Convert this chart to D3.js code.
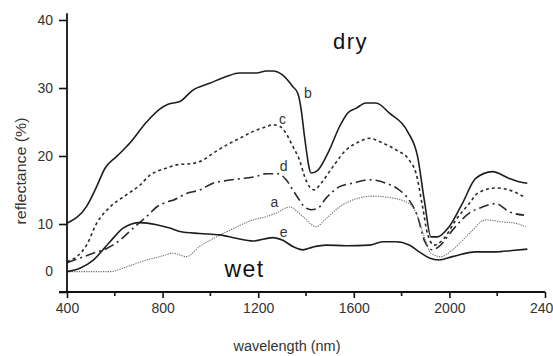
<!DOCTYPE html>
<html>
<head>
<meta charset="utf-8">
<script src="https://cdn.jsdelivr.net/npm/d3@7"></script>
<style>
  html, body { margin: 0; padding: 0; background: #fff; }
  svg { display: block; font-family: "Liberation Sans", Arial, sans-serif; }
</style>
</head>
<body>
<svg id="chart" width="553" height="356"></svg>
<script>
// wavelength (nm) / reflectance (%)
const waveB = [400, 482, 524, 559, 607, 663, 733, 788, 823, 872, 927, 997, 1067, 1122, 1192, 1234, 1261, 1303, 1345, 1366, 1380, 1394, 1422, 1449, 1498, 1540, 1574, 1609, 1651, 1693, 1749, 1825, 1867, 1895, 1923, 1950, 1999, 2054, 2110, 2180, 2250, 2291, 2326];
const reflB = [10.1, 12.6, 15.5, 18.2, 19.9, 21.9, 25.0, 26.9, 27.6, 28.0, 29.7, 30.7, 31.7, 32.2, 32.2, 32.5, 32.5, 31.9, 30.2, 29.2, 26.8, 22.8, 17.5, 17.9, 20.9, 24.3, 26.3, 27.0, 27.8, 27.8, 26.3, 23.6, 19.9, 13.5, 8.1, 8.1, 9.6, 13.0, 16.7, 17.7, 16.7, 16.2, 16.0];

const waveC = [400, 441, 482, 524, 580, 649, 705, 747, 788, 823, 858, 927, 969, 1011, 1067, 1122, 1192, 1234, 1261, 1289, 1317, 1345, 1373, 1394, 1414, 1435, 1463, 1512, 1568, 1623, 1665, 1721, 1777, 1832, 1860, 1888, 1908, 1936, 1978, 2027, 2083, 2117, 2194, 2250, 2312];
const reflC = [4.5, 5.2, 6.9, 10.1, 12.5, 14.3, 15.7, 17.2, 17.9, 18.3, 18.7, 18.9, 19.4, 20.4, 21.6, 22.6, 23.8, 24.3, 24.6, 24.4, 23.3, 21.4, 19.4, 17.0, 15.5, 15.0, 16.0, 18.4, 20.9, 22.1, 22.6, 21.9, 20.9, 19.4, 17.5, 12.5, 8.6, 6.9, 7.9, 10.6, 13.0, 14.5, 15.3, 15.0, 14.0];

const waveD = [400, 454, 510, 566, 621, 677, 733, 775, 823, 844, 900, 955, 1011, 1067, 1136, 1192, 1234, 1282, 1317, 1345, 1373, 1394, 1422, 1449, 1484, 1540, 1595, 1665, 1735, 1790, 1832, 1867, 1895, 1930, 1957, 2013, 2083, 2138, 2194, 2250, 2312];
const reflD = [4.3, 5.0, 5.7, 6.4, 7.6, 9.4, 11.1, 12.5, 13.3, 13.5, 14.5, 15.0, 16.0, 16.4, 16.7, 17.0, 17.4, 17.4, 16.5, 15.0, 13.5, 12.5, 12.1, 12.3, 13.8, 15.5, 16.0, 16.5, 16.0, 15.0, 13.5, 11.1, 7.6, 6.2, 6.7, 9.1, 11.6, 12.5, 13.0, 11.8, 11.3];

const waveA = [400, 482, 580, 649, 733, 788, 844, 900, 955, 1025, 1094, 1178, 1234, 1275, 1331, 1387, 1442, 1484, 1540, 1609, 1679, 1749, 1832, 1867, 1895, 1923, 1964, 2013, 2083, 2152, 2222, 2278, 2319];
const reflA = [3.0, 3.0, 3.0, 3.7, 4.7, 5.2, 5.7, 5.2, 6.7, 8.1, 9.3, 10.6, 11.1, 11.6, 12.5, 11.1, 9.6, 10.8, 12.5, 13.7, 14.1, 13.9, 13.0, 11.1, 8.1, 5.7, 5.2, 6.2, 8.6, 10.6, 10.3, 10.1, 9.6];

const waveE = [400, 454, 510, 580, 635, 705, 775, 830, 872, 955, 1039, 1108, 1178, 1261, 1303, 1345, 1387, 1428, 1484, 1568, 1665, 1721, 1777, 1832, 1874, 1916, 1957, 2013, 2110, 2194, 2263, 2326];
const reflE = [3.0, 3.5, 4.7, 7.4, 9.4, 10.2, 9.9, 9.4, 8.9, 8.6, 8.4, 7.9, 7.5, 8.0, 7.6, 6.7, 6.2, 6.6, 6.9, 6.8, 6.9, 7.4, 7.4, 6.9, 5.9, 5.0, 4.7, 5.2, 5.9, 5.9, 6.1, 6.3];

const xTicks = [400, 800, 1200, 1600, 2000, 2400];
const xMinorTicks = [600, 1000, 1400, 1800, 2200];
const yTicks = [0, 10, 20, 30, 40];

// curve letters and the two big notes, in data units
const curveLabels = [
  { text: 'b', w: 1408, v: 29.3 },
  { text: 'c', w: 1302, v: 25.4 },
  { text: 'd', w: 1306, v: 18.5 },
  { text: 'a', w: 1268, v: 13.2 },
  { text: 'e', w: 1306, v: 8.8 }
];
const notes = [
  { text: 'dry', w: 1586, v: 35.7, size: 22 },
  { text: 'wet', w: 1143, v: 2.2, size: 23 }
];

const svg = d3.select('#chart');
const x = d3.scaleLinear().domain([400, 2400]).range([67, 545]);
const y = d3.scaleLinear().domain([0, 40]).range([292, 20]);

const series = [
  { w: waveB, r: reflB, dash: null, width: 1.6, color: '#1e1e1e' },
  { w: waveC, r: reflC, dash: '3,3', width: 1.6, color: '#2a2a2a' },
  { w: waveD, r: reflD, dash: '10,4,2,4', width: 1.6, color: '#2a2a2a' },
  { w: waveA, r: reflA, dash: '1.2,1.2', width: 1.1, color: '#666' },
  { w: waveE, r: reflE, dash: null, width: 1.6, color: '#1e1e1e' }
];

const line = d3.line()
  .x(d => x(d[0]))
  .y(d => y(d[1]))
  .curve(d3.curveMonotoneX);

series.forEach(s => {
  svg.append('path')
    .datum(s.w.map((w, i) => [w, s.r[i]]))
    .attr('fill', 'none')
    .attr('stroke', s.color)
    .attr('stroke-width', s.width)
    .attr('stroke-dasharray', s.dash)
    .attr('stroke-linejoin', 'round')
    .attr('d', line);
});

// axes
const xAxis = svg.append('g')
  .attr('transform', `translate(0,${y(0)})`)
  .call(d3.axisBottom(x).tickValues(xTicks).tickSize(6).tickPadding(5).tickFormat(d3.format('d')));
xAxis.append('g')
  .selectAll('line')
  .data(xMinorTicks)
  .join('line')
  .attr('x1', d => x(d)).attr('x2', d => x(d))
  .attr('y1', 0).attr('y2', 4)
  .attr('stroke', '#111').attr('stroke-width', 1.6);

const yAxis = svg.append('g')
  .attr('transform', `translate(${x(400)},0)`)
  .call(d3.axisLeft(y).tickValues(yTicks).tickSize(8).tickPadding(6));

[xAxis, yAxis].forEach(g => {
  g.select('.domain').remove();
  g.selectAll('.tick line').attr('stroke', '#111').attr('stroke-width', 1.6);
  g.selectAll('.tick text')
    .attr('fill', '#333')
    .style('font-size', '14px')
    .style('font-family', '"Liberation Sans", Arial, sans-serif');
});
// the "0" label sits above the baseline in the original
yAxis.selectAll('.tick').filter(d => d === 0).select('text').attr('dy', '-1.15em');

// axis lines
svg.append('line')
  .attr('x1', x(400) - 8).attr('x2', x(2400))
  .attr('y1', y(0)).attr('y2', y(0))
  .attr('stroke', '#111').attr('stroke-width', 1.8);
svg.append('line')
  .attr('x1', x(400)).attr('x2', x(400))
  .attr('y1', y(41)).attr('y2', y(0))
  .attr('stroke', '#111').attr('stroke-width', 1.8);

// axis titles
svg.append('text')
  .attr('x', 287).attr('y', 351)
  .attr('text-anchor', 'middle')
  .attr('fill', '#333')
  .attr('textLength', 107)
  .attr('lengthAdjust', 'spacingAndGlyphs')
  .style('font-size', '14px')
  .text('wavelength (nm)');
svg.append('text')
  .attr('transform', 'translate(26,171) rotate(-90)')
  .attr('text-anchor', 'middle')
  .attr('fill', '#333')
  .attr('textLength', 107)
  .attr('lengthAdjust', 'spacingAndGlyphs')
  .style('font-size', '15px')
  .text('reflectance (%)');

svg.selectAll('.curve-label')
  .data(curveLabels)
  .join('text')
  .attr('class', 'curve-label')
  .attr('x', d => x(d.w)).attr('y', d => y(d.v))
  .attr('dy', '0.35em')
  .attr('text-anchor', 'middle')
  .attr('fill', '#333')
  .style('font-size', '14px')
  .text(d => d.text);

svg.selectAll('.note')
  .data(notes)
  .join('text')
  .attr('class', 'note')
  .attr('x', d => x(d.w)).attr('y', d => y(d.v))
  .attr('text-anchor', 'middle')
  .attr('fill', '#111')
  .style('font-size', d => d.size + 'px')
  .style('letter-spacing', '1.5px')
  .text(d => d.text);
</script>
</body>
</html>
